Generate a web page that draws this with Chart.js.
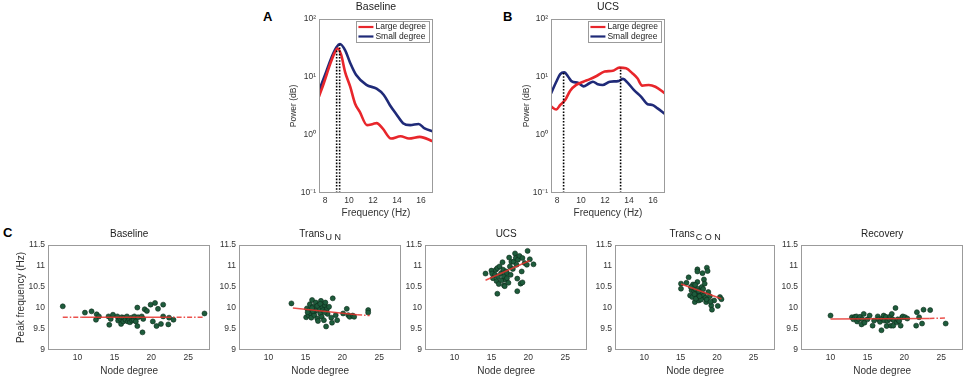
<!DOCTYPE html>
<html>
<head>
<meta charset="utf-8">
<script src="https://cdn.jsdelivr.net/npm/chart.js@4.4.0/dist/chart.umd.min.js"></script>
<style>
body{margin:0;background:#fff;width:968px;height:379px;position:relative;overflow:hidden}
.box{position:absolute}
.lbl{position:absolute;font:bold 13px/13px "Liberation Sans",Arial,sans-serif;color:#000}
</style>
</head>
<body>
<div class="lbl" style="left:263px;top:10px">A</div>
<div class="lbl" style="left:503px;top:10px">B</div>
<div class="lbl" style="left:3px;top:226px">C</div>
<script>
// ---- spectra (panels A, B) ----
const aLargeHz  = [7.5, 7.9, 8.4, 8.8, 9.05, 9.35, 9.67, 10.1, 10.5, 10.9, 11.5, 12.0, 12.3, 12.8, 13.5, 14.3, 15.0, 15.9, 17.0];
const aLargePow = [4.6, 7.8, 16, 26, 31, 24, 12.3, 6.8, 3.5, 2.5, 1.48, 1.55, 1.6, 1.3, 0.87, 0.95, 0.87, 0.93, 0.78];
const aSmallHz  = [7.5, 8.0, 8.55, 8.97, 9.25, 9.67, 10.1, 10.6, 11.45, 12.3, 12.9, 13.4, 14.0, 14.5, 15.1, 15.8, 16.3, 17.0];
const aSmallPow = [5.8, 10.8, 22, 33, 37, 29, 17.5, 10.8, 7.3, 6.3, 4.9, 3.3, 2.2, 1.6, 1.48, 1.55, 1.3, 1.15];
const aPeakHz   = [8.97, 9.22];
const aPeakPow  = [30, 36];

const bLargeHz  = [7.5, 7.94, 8.27, 8.68, 9.1, 9.6, 10.2, 10.7, 11.3, 11.97, 12.65, 13.2, 13.75, 14.3, 14.7, 15.1, 15.65, 16.2, 17.0];
const bLargePow = [3.1, 2.75, 3.3, 4.0, 5.8, 7.3, 8.3, 9.1, 10.4, 12.4, 12.8, 14.5, 14.1, 11.5, 9.5, 7.1, 7.3, 6.8, 5.2];
const bSmallHz  = [7.5, 7.94, 8.27, 8.6, 8.95, 9.2, 9.78, 10.2, 10.7, 11.0, 11.4, 11.8, 12.4, 13.1, 13.5, 13.9, 14.4, 15.0, 15.55, 15.95, 16.35, 17.0];
const bSmallPow = [5.2, 8.3, 11.2, 12.0, 10, 8.5, 7.9, 6.9, 7.8, 8.3, 7.5, 7.3, 8.3, 8.5, 9.3, 7.9, 6.0, 4.6, 3.4, 3.3, 2.9, 2.3];
const bPeakHz   = [8.55, 13.3];
const bPeakPow  = [12.3, 14.4];

const hzTicks = [8, 10, 12, 14, 16];
const powTicks = [0.1, 1, 10, 100];
const powTickLabels = ['10⁻¹', '10⁰', '10¹', '10²'];
const seriesNames = ['Large degree', 'Small degree'];

// ---- node degree vs peak frequency (panel C) ----
const deg1  = [8.0,11.0,11.9,12.5,12.6,12.9,14.2,14.3,14.5,14.8,15.4,15.5,15.8,15.9,16.0,16.2,16.3,16.5,16.7,16.8,17.0,17.1,17.3,17.4,17.6,17.7,17.9,18.1,18.2,18.1,18.7,18.8,18.9,19.1,19.4,19.9,20.2,20.5,20.7,20.9,21.3,21.6,21.6,22.3,22.4,23.0,27.2];
const freq1 = [10.04,9.89,9.92,9.72,9.85,9.8,9.8,9.6,9.74,9.84,9.8,9.7,9.74,9.62,9.78,9.68,9.77,9.72,9.8,9.68,9.72,9.66,9.77,9.7,9.72,9.8,9.68,10.01,9.78,9.57,9.8,9.42,9.74,9.97,9.93,10.08,9.68,10.12,9.57,9.98,9.62,10.08,9.8,9.61,9.77,9.72,9.87];
const deg2  = [13.1,15.1,15.2,15.4,15.5,15.6,15.7,15.8,15.9,16.0,16.1,16.2,16.3,16.4,16.5,16.6,16.7,16.8,16.9,17.0,17.1,17.2,17.3,17.4,17.5,17.6,17.7,17.8,17.9,18.0,18.2,18.5,18.6,18.7,19.1,19.3,20.1,20.6,20.8,21.0,21.4,21.6,23.5,23.5,15.3,16.0,16.6,17.0,17.6,15.9];
const freq2 = [10.11,9.78,9.99,9.83,9.95,10.09,9.87,9.77,10.19,10.03,9.89,9.83,9.93,10.13,9.95,9.75,9.69,10.07,9.99,9.87,10.17,9.79,10.02,9.95,9.71,10.07,10.13,9.56,9.97,9.86,10.03,9.77,9.65,10.23,9.83,9.71,9.87,9.98,9.83,9.79,9.82,9.79,9.95,9.89,9.9,9.93,10.05,10.1,9.9,10.0];
const deg3  = [14.2,15.0,15.1,15.2,15.5,15.6,15.7,15.8,15.8,15.9,16.0,16.1,16.3,16.4,16.5,16.6,16.7,16.7,16.8,16.95,17.0,17.1,17.1,17.3,17.4,17.5,17.6,17.7,17.9,18.0,18.2,18.3,18.4,18.5,18.5,18.6,18.8,18.95,19.1,19.2,19.2,19.5,19.8,19.9,20.2,20.7];
const freq3 = [10.82,10.89,10.82,10.71,10.79,10.91,10.64,10.34,10.95,10.75,10.57,10.99,10.83,10.66,11.09,10.91,10.75,10.54,10.52,10.67,10.87,10.71,10.83,10.6,11.2,10.99,10.79,11.1,10.93,11.1,11.3,11.19,11.03,10.7,10.4,11.15,11.24,10.58,10.87,11.19,10.61,11.07,11.03,11.36,11.16,11.04];
const deg4  = [15.05,15.05,15.8,16.1,16.3,16.5,16.6,16.7,16.85,16.95,17.05,17.2,17.3,17.3,17.3,17.4,17.5,17.6,17.7,17.9,18.0,18.0,18.2,18.2,18.3,18.4,18.5,18.6,18.7,18.8,19.0,19.2,19.3,19.6,20.1,20.4,20.6,16.9,17.1,17.5,17.8,18.1,16.4,17.0,18.6,19.1,17.6];
const freq4 = [10.58,10.46,10.6,10.73,10.3,10.42,10.26,10.56,10.39,10.14,10.45,10.3,10.62,10.92,10.87,10.46,10.18,10.36,10.25,10.5,10.34,10.83,10.68,10.3,10.58,10.24,10.14,10.96,10.88,10.38,10.28,10.06,9.96,10.18,10.05,10.26,10.21,10.33,10.22,10.4,10.2,10.45,10.5,10.55,10.2,10.15,10.28];
const deg5  = [10.0,12.9,13.1,13.3,13.5,13.6,13.8,14.0,14.2,14.3,14.5,14.6,15.0,15.3,15.7,15.9,16.4,16.5,16.7,16.9,17.0,17.2,17.3,17.5,17.6,17.7,17.95,18.1,18.2,18.3,18.4,18.5,18.6,18.8,18.95,19.1,19.3,19.5,19.7,19.8,20.1,20.4,21.6,21.7,22.0,22.4,22.6,23.5,25.6];
const freq5 = [9.82,9.78,9.73,9.79,9.8,9.68,9.74,9.79,9.61,9.73,9.86,9.65,9.73,9.82,9.58,9.7,9.8,9.73,9.67,9.47,9.75,9.82,9.7,9.79,9.57,9.69,9.74,9.8,9.58,9.86,9.73,9.58,9.7,10.0,9.66,9.73,9.69,9.58,9.78,9.8,9.78,9.75,9.58,9.9,9.78,9.63,9.96,9.95,9.63];

// fitted lines
const fitDeg1 = [8, 10.5, 22, 27.2],  fitFreq1 = [9.78, 9.78, 9.78, 9.78];
const fitDeg2 = [13.3, 22, 23.7],     fitFreq2 = [10.0, 9.84, 9.82];
const fitDeg3 = [14.2, 20.2],         fitFreq3 = [10.66, 11.13];
const fitDeg4 = [15.05, 20.6],        fitFreq4 = [10.57, 10.22];
const fitDeg5 = [10, 23.4, 25.6],     fitFreq5 = [9.74, 9.75, 9.76];

const degTicks  = [10, 15, 20, 25];
const peakTicks = [9, 9.5, 10, 10.5, 11, 11.5];
const panelTitles = ['Baseline', 'Trans', 'UCS', 'Trans', 'Recovery'];
const panelSubs   = ['', 'U N', '', 'C O N', ''];

const FONT = '"Liberation Sans", Arial, sans-serif';
const RED = '#e8262b', NAVY = '#1f2a78', GREEN = '#1e5c3c';
Chart.defaults.font.family = FONT;
Chart.defaults.color = '#333';
Chart.defaults.animation = false;

const pts = (xs, ys) => xs.map((x, i) => ({x: x, y: ys[i]}));

// plot frame (box on), titles with optional subscript, boxed legend inside
const framePlugin = {
  id: 'frame',
  afterDraw(chart) {
    const a = chart.chartArea, ctx = chart.ctx;
    ctx.save();
    ctx.strokeStyle = '#9b9b9b';
    ctx.lineWidth = 1;
    ctx.strokeRect(Math.round(a.left) + 0.5, Math.round(a.top) + 0.5, Math.round(a.right - a.left) - 1, Math.round(a.bottom - a.top) - 1);
    ctx.restore();
  }
};
const titlePlugin = {
  id: 'panelTitle',
  afterDraw(chart, args, o) {
    if (!o.text) return;
    const a = chart.chartArea, ctx = chart.ctx;
    ctx.save();
    ctx.fillStyle = '#222';
    ctx.textBaseline = 'middle';
    ctx.textAlign = 'left';
    ctx.font = o.size + 'px ' + FONT;
    const w1 = ctx.measureText(o.text).width;
    let w2 = 0;
    if (o.sub) {
      ctx.font = (o.size - 1) + 'px ' + FONT;
      w2 = ctx.measureText(o.sub).width + 1;
    }
    const x0 = (a.left + a.right) / 2 - (w1 + w2) / 2;
    const y = a.top - o.gap;
    ctx.font = o.size + 'px ' + FONT;
    ctx.fillText(o.text, x0, y);
    if (o.sub) {
      ctx.font = (o.size - 1) + 'px ' + FONT;
      ctx.fillText(o.sub, x0 + w1 + 1, y + 4);
    }
    ctx.restore();
  }
};
const legendPlugin = {
  id: 'boxLegend',
  afterDraw(chart, args, o) {
    if (!o.items) return;
    const a = chart.chartArea, ctx = chart.ctx;
    ctx.save();
    ctx.font = '8.5px ' + FONT;
    let tw = 0;
    o.items.forEach(it => { tw = Math.max(tw, ctx.measureText(it.text).width); });
    const w = 19 + tw + 3, h = 21;
    const x = a.right - w - 4, y = a.top + 2;
    ctx.fillStyle = '#fff';
    ctx.fillRect(x, y, w, h);
    ctx.strokeStyle = '#9b9b9b';
    ctx.lineWidth = 1;
    ctx.strokeRect(Math.round(x) + 0.5, Math.round(y) + 0.5, Math.round(w), h);
    o.items.forEach((it, i) => {
      const yy = y + 6 + i * 9.5;
      ctx.strokeStyle = it.color;
      ctx.lineWidth = 2.2;
      ctx.beginPath(); ctx.moveTo(x + 2, yy); ctx.lineTo(x + 17, yy); ctx.stroke();
      ctx.fillStyle = '#222';
      ctx.textBaseline = 'middle';
      ctx.fillText(it.text, x + 19, yy);
    });
    ctx.restore();
  }
};
Chart.register(framePlugin, titlePlugin, legendPlugin);

function makeCanvas(box) {
  const d = document.createElement('div');
  d.className = 'box';
  d.style.left = box[0] + 'px';
  d.style.top = box[1] + 'px';
  const c = document.createElement('canvas');
  c.width = box[2] - box[0];
  c.height = box[3] - box[1];
  d.appendChild(c);
  document.body.appendChild(d);
  return c;
}

function spectrum(box, area, title, largeHz, largePow, smallHz, smallPow, peakHz, peakPow) {
  const c = makeCanvas(box);
  const datasets = [];
  peakHz.forEach((hz, i) => {
    datasets.push({type: 'line', data: [{x: hz, y: 0.1}, {x: hz, y: peakPow[i]}], borderColor: '#000',
      borderWidth: 1.6, borderDash: [1.6, 1.6], pointRadius: 0, fill: false});
  });
  datasets.push({type: 'line', label: seriesNames[0], data: pts(largeHz, largePow), borderColor: RED,
    borderWidth: 2.6, pointRadius: 0, cubicInterpolationMode: 'monotone', fill: false});
  datasets.push({type: 'line', label: seriesNames[1], data: pts(smallHz, smallPow), borderColor: NAVY,
    borderWidth: 2.6, pointRadius: 0, cubicInterpolationMode: 'monotone', fill: false});
  new Chart(c, {
    type: 'scatter',
    data: {datasets: datasets},
    options: {
      responsive: false,
      layout: {padding: {left: 0, top: area[1] - box[1], right: box[2] - area[2], bottom: 0}},
      plugins: {
        legend: {display: false}, tooltip: {enabled: false},
        panelTitle: {text: title, size: 10.5, gap: 12},
        boxLegend: {items: [{text: seriesNames[0], color: RED}, {text: seriesNames[1], color: NAVY}]}
      },
      scales: {
        x: {
          type: 'linear', min: 7.5, max: 17,
          afterBuildTicks: s => { s.ticks = hzTicks.map(v => ({value: v})); },
          afterFit: s => { s.height = box[3] - area[3]; },
          grid: {display: false, drawTicks: false}, border: {display: false},
          ticks: {font: {size: 8.5}, padding: 3, maxRotation: 0},
          title: {display: true, text: 'Frequency (Hz)', font: {size: 10}, padding: 0}
        },
        y: {
          type: 'logarithmic', min: 0.1, max: 100,
          afterBuildTicks: s => { s.ticks = powTicks.map(v => ({value: v})); },
          afterFit: s => { s.width = area[0] - box[0]; },
          grid: {display: false, drawTicks: false}, border: {display: false},
          ticks: {font: {size: 8.5}, padding: 3, callback: (v, i) => powTickLabels[i]},
          title: {display: true, text: 'Power (dB)', font: {size: 8.5}, padding: 0}
        }
      }
    }
  });
}

spectrum([289, 0, 440, 219], [319, 19, 433, 193], 'Baseline', aLargeHz, aLargePow, aSmallHz, aSmallPow, aPeakHz, aPeakPow);
spectrum([522, 0, 672, 219], [551, 19, 665, 193], 'UCS', bLargeHz, bLargePow, bSmallHz, bSmallPow, bPeakHz, bPeakPow);

function degreePanel(k, box, area, deg, freq, fitDeg, fitFreq, dashed, yTitle) {
  const c = makeCanvas(box);
  new Chart(c, {
    type: 'scatter',
    data: {datasets: [
      {type: 'line', data: pts(fitDeg, fitFreq), borderColor: 'rgba(232,50,45,0.85)', borderWidth: 1.5,
        pointRadius: 0, fill: false,
        segment: {borderDash: ctx => dashed.indexOf(ctx.p0DataIndex) >= 0 ? [5, 2, 1.5, 2] : undefined}},
      {data: pts(deg, freq), backgroundColor: GREEN, borderColor: '#0c2a1a', borderWidth: 0.6, pointRadius: 2.5}
    ]},
    options: {
      responsive: false,
      layout: {padding: {left: 0, top: area[1] - box[1], right: box[2] - area[2], bottom: 0}},
      plugins: {
        legend: {display: false}, tooltip: {enabled: false},
        panelTitle: {text: panelTitles[k], sub: panelSubs[k], size: 10, gap: 11}
      },
      scales: {
        x: {
          type: 'linear', min: 6, max: 28,
          afterBuildTicks: s => { s.ticks = degTicks.map(v => ({value: v})); },
          afterFit: s => { s.height = box[3] - area[3]; },
          grid: {display: false, drawTicks: false}, border: {display: false},
          ticks: {font: {size: 8.5}, padding: 3, maxRotation: 0},
          title: {display: true, text: 'Node degree', font: {size: 10}, padding: 0}
        },
        y: {
          type: 'linear', min: 9, max: 11.5,
          afterBuildTicks: s => { s.ticks = peakTicks.map(v => ({value: v})); },
          afterFit: s => { s.width = area[0] - box[0]; },
          grid: {display: false, drawTicks: false}, border: {display: false},
          ticks: {font: {size: 8.5}, padding: 3, callback: v => String(v)},
          title: {display: !!yTitle, text: yTitle || '', font: {size: 10}, padding: 0}
        }
      }
    }
  });
}

degreePanel(0, [15, 222, 215, 377],  [48, 245, 212, 350],  deg1, freq1, fitDeg1, fitFreq1, [0, 2], 'Peak frequency (Hz)');
degreePanel(1, [209, 222, 406, 377], [239, 245, 403, 350], deg2, freq2, fitDeg2, fitFreq2, [1]);
degreePanel(2, [395, 222, 592, 377], [425, 245, 589, 350], deg3, freq3, fitDeg3, fitFreq3, []);
degreePanel(3, [585, 222, 780, 377], [615, 245, 777, 350], deg4, freq4, fitDeg4, fitFreq4, []);
degreePanel(4, [771, 222, 968, 377], [801, 245, 965, 350], deg5, freq5, fitDeg5, fitFreq5, [1]);
</script>
</body>
</html>
